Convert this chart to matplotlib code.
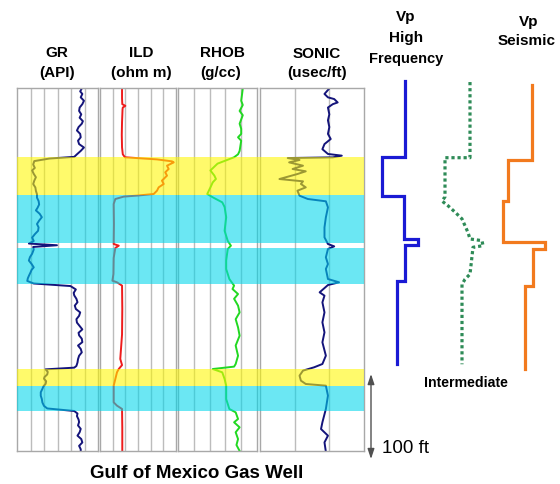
import numpy as np
import matplotlib
matplotlib.use('Agg')
import matplotlib.pyplot as plt
from matplotlib import transforms

plt.rcParams['font.family'] = ['Liberation Sans', 'DejaVu Sans']

# depths in ft below the top of the logged interval
gr_depth = [0.5, 4, 7, 11, 15, 19, 23, 27, 31, 35, 39, 42, 46, 50, 54, 58, 62, 66, 70, 74,
            78, 81, 83, 86, 90, 94, 97, 101, 105, 109, 113, 117, 121, 125, 129, 133, 137, 141,
            144, 148, 152, 156, 160, 164, 168, 172, 176, 180, 183, 185, 187, 190, 195, 199,
            203, 207, 211, 214, 217, 221, 224, 227, 230, 233, 237, 241, 244, 248, 252, 256,
            260, 264, 268, 272, 276, 280, 284, 288, 291, 295, 299, 303, 307, 311, 315, 319,
            323, 327, 329, 331, 334, 337, 340, 342, 345, 348, 351, 354, 358, 362, 366, 370,
            374, 377, 380, 383, 386, 390, 393, 397, 401, 405, 409, 413, 417, 421, 425, 428]
gr_api = [120, 117, 121, 118, 124, 121, 116, 115, 119, 116, 122, 120, 114, 111, 117, 118, 113,
          115, 124, 118, 111, 106, 60, 32, 30, 33, 28, 31, 35, 32, 30, 34, 35, 37, 37, 40, 41,
          38, 35, 42, 46, 41, 37, 40, 39, 33, 28, 31, 22, 74, 30, 31, 28, 24, 22, 27, 31, 27,
          25, 22, 20, 19, 31, 99, 109, 105, 106, 110, 112, 107, 109, 117, 115, 110, 111, 116,
          121, 114, 115, 120, 121, 113, 118, 120, 115, 113, 112, 110, 106, 53, 57, 56, 51, 50,
          54, 53, 49, 47, 44, 44, 46, 47, 50, 56, 106, 112, 111, 114, 115, 113, 118, 116, 112,
          119, 121, 115, 118, 118]

ild_depth = [0.5, 12, 19, 21, 23, 25, 40, 55, 70, 78, 81.5, 84, 86.3, 87.5, 91.4, 95.3, 99.2,
             103.1, 109, 112.9, 116.9, 120.8, 124.7, 126.5, 127.8, 130.6, 136.5, 160, 183.5,
             185.5, 188.2, 200, 218.8, 226.7, 228.6, 232.5, 260, 290, 318.8, 326, 330.6, 334.5,
             342.4, 350.2, 369.8, 373.7, 377.6, 400, 428]
ild_ohmm = [1.74, 1.74, 1.76, 2.0, 1.8, 1.78, 1.74, 1.72, 1.74, 1.8, 1.97, 4.5, 5.68, 5.82,
            5.29, 5.42, 5.15, 5.29, 4.89, 5.03, 4.63, 4.5, 4.24, 3.0, 1.87, 1.21, 1.08, 1.1,
            1.08, 1.48, 1.21, 1.08, 1.06, 0.98, 1.34, 1.74, 1.76, 1.74, 1.6, 1.74, 1.48, 1.34,
            1.21, 1.08, 1.08, 1.34, 1.74, 1.76, 1.76]

rhob_depth = [0.5, 8, 15, 20, 27, 32, 42, 48, 54, 58, 62, 68, 74, 78, 81.5, 89, 97, 103, 107,
              111, 117, 124.7, 128.6, 134.5, 140, 152, 160, 168, 180, 185.5, 189.4, 196, 203,
              213, 224.7, 232.5, 236.5, 242.4, 248, 256, 264, 272, 281.6, 291.4, 303, 315,
              324.7, 327.8, 330.6, 334.5, 342.4, 350.2, 366, 377.6, 381.6, 389.4, 393.3, 399.2,
              405, 413, 420, 427]
rhob_gcc = [2.47, 2.46, 2.45, 2.47, 2.43, 2.47, 2.43, 2.45, 2.45, 2.41, 2.45, 2.44, 2.43, 2.41,
            2.36, 2.15, 2.06, 2.11, 2.13, 2.09, 2.06, 2.02, 2.09, 2.21, 2.24, 2.26, 2.25, 2.24,
            2.28, 2.32, 2.28, 2.27, 2.26, 2.26, 2.30, 2.36, 2.34, 2.41, 2.36, 2.41, 2.43, 2.38,
            2.41, 2.43, 2.38, 2.41, 2.38, 2.36, 2.09, 2.21, 2.24, 2.26, 2.26, 2.30, 2.38, 2.41,
            2.36, 2.43, 2.38, 2.41, 2.39, 2.43]

dt_depth = [0.5, 7, 11, 13, 17, 19, 23, 31, 38, 46, 54, 60, 66, 72, 77.6, 79.6, 81.6, 82.4, 84.7,
            87.5, 91.4, 95.3, 98, 101.2, 107.1, 109.8, 112.9, 116.9, 120.8, 126.7, 130.6, 133.3,
            140.4, 152.2, 164, 175.7, 183.5, 186.3, 189.4, 199.2, 207.1, 212.9, 224.7, 228.6,
            231.8, 240.4, 244.3, 252.2, 264, 275.7, 287.5, 299.2, 314.9, 324.7, 328.6, 332.5,
            338.4, 344.3, 348.2, 350.2, 361.9, 377.6, 393.3, 401.2, 409, 416.9, 428]
dt_usft = [100, 107, 102, 93, 88, 95, 102, 100, 102, 100, 102, 98, 107, 110, 102, 82, 95, 160,
           143, 158, 138, 153, 134, 146, 172, 138, 141, 134, 146, 143, 131, 105, 102, 105, 107,
           107, 102, 93, 102, 105, 102, 105, 102, 86, 102, 114, 107, 110, 107, 110, 107, 110,
           105, 110, 122, 138, 143, 141, 134, 105, 102, 105, 110, 112, 102, 107, 105]

# blocked P-velocity at three resolutions (ft/s)
vp_hf_depth = [-8, 81, 81, 127, 127, 178, 178, 185, 185, 227, 227, 325]
vp_hf = [10500, 10500, 8200, 8200, 10400, 10400, 11800, 11800, 10500, 10500, 9700, 9700]

vp_mid_depth = [-7, 82, 82, 128, 133, 138.5, 146, 154, 162, 170, 177.6, 179.6, 185.5, 187.4,
                219, 225, 231, 325]
vp_mid = [10500, 10500, 8000, 8000, 7700, 8300, 9000, 9700, 10000, 10300, 10500, 11700, 11800,
          10800, 10500, 10000, 9700, 9700]

vp_seis_depth = [-3.5, 85, 85, 132.6, 132.6, 181.5, 181.5, 189.4, 189.4, 232.6, 232.6, 330.6]
vp_seis = [10200, 10200, 7800, 7800, 7300, 7300, 11500, 11500, 10300, 10300, 9500, 9500]

# gas (yellow) and wet (cyan) sand intervals
band_top = [81, 126, 188, 331, 351]
band_bot = [126, 182, 231, 351, 380]
band_fluid = ['gas', 'water', 'water', 'gas', 'water']

W, H = 560, 485
TOP, BOT = 89, 452
FT_PER_PX = 100 / 85
DEPTH_MAX = (BOT - TOP) * FT_PER_PX

fig = plt.figure(figsize=(W / 100, H / 100), dpi=100)


def rect(x0, x1):
    return [x0 / W, 1 - BOT / H, (x1 - x0) / W, (BOT - TOP) / H]


def track(x0, x1, lim, ticks, x, depth, color):
    ax = fig.add_axes(rect(x0, x1))
    ax.set_xlim(lim)
    ax.set_ylim(DEPTH_MAX, 0)
    # interior grid only, the frame supplies the outer lines
    ax.set_xticks(ticks[1:-1])
    ax.set_yticks([])
    ax.tick_params(length=0, labelbottom=False)
    ax.grid(axis='x', color='#bcbcbc', lw=1.0)
    for sp in ax.spines.values():
        sp.set_color('#a8a8a8')
        sp.set_linewidth(1.0)
    ax.plot(x, depth, color=color, lw=1.4)
    return ax


ax_gr = track(17, 98, (0, 150), list(np.arange(0, 151, 25)), gr_api, gr_depth, '#14147a')
ax_ild = track(100, 176, (0, 6), list(np.arange(0, 7, 1)), ild_ohmm, ild_depth, '#ee1c1c')
ax_rhob = track(178, 257, (1.65, 2.65), list(np.arange(1.65, 2.66, 0.2)), rhob_gcc, rhob_depth,
                '#22d822')
ax_dt = track(260, 364, (200, 50), [200, 150, 100, 50], dt_usft, dt_depth, '#14147a')

# fluid bands laid over all four tracks
ax_band = fig.add_axes(rect(17, 364))
ax_band.set_xlim(0, 1)
ax_band.set_ylim(DEPTH_MAX, 0)
ax_band.axis('off')
fluid_color = {'gas': '#fff800', 'water': '#00d7eb'}
for t, b, f in zip(band_top, band_bot, band_fluid):
    ax_band.axhspan(t, b, color=fluid_color[f], alpha=0.58, lw=0)


def vp_column(x0, depth, vp, **kw):
    ax = fig.add_axes(rect(x0, x0 + 70))
    ax.set_xlim(6000, 13000)
    ax.set_ylim(DEPTH_MAX, 0)
    ax.axis('off')
    ax.plot(vp, depth, clip_on=False, lw=2.3, solid_joinstyle='miter', **kw)


vp_column(360, vp_hf_depth, vp_hf, color='#1a1ad4')
vp_column(425, vp_mid_depth, vp_mid, color='#2e8b57', linestyle=(0, (1, 0.9)))
vp_column(490, vp_seis_depth, vp_seis, color='#f27a1e')


def label(x, y, s, size=11, weight='bold'):
    fig.text(x / W, 1 - y / H, s, ha='center', va='baseline', fontsize=size, fontweight=weight)


label(57, 57, 'GR')
label(57, 77, '(API)')
label(141, 57, 'ILD')
label(141, 77, '(ohm m)')
label(222, 57, 'RHOB')
label(221, 77, '(g/cc)')
label(317, 58, 'SONIC')
label(317, 77, '(usec/ft)')
label(406, 21, 'Vp')
label(406, 42, 'High')
label(406, 63, 'Frequency', size=10.5)
label(529, 26, 'Vp')
label(527, 45, 'Seismic')
label(466, 387, 'Intermediate', size=10.2)
label(197, 478, 'Gulf of Mexico Gas Well', size=13.5)
label(405, 453, '100 ft', size=13.5, weight='normal')

# 100 ft depth scale bar
scale_top = 336.5
trans = transforms.blended_transform_factory(fig.transFigure, ax_band.transData)
ax_band.annotate('', xy=(371 / W, scale_top + 100), xytext=(371 / W, scale_top),
                 xycoords=trans, textcoords=trans, annotation_clip=False,
                 arrowprops=dict(arrowstyle='<|-|>,head_length=0.6,head_width=0.2',
                                 color='#505050', lw=1.0, mutation_scale=10,
                                 shrinkA=0, shrinkB=0))

fig.savefig('out.png', dpi=100)
